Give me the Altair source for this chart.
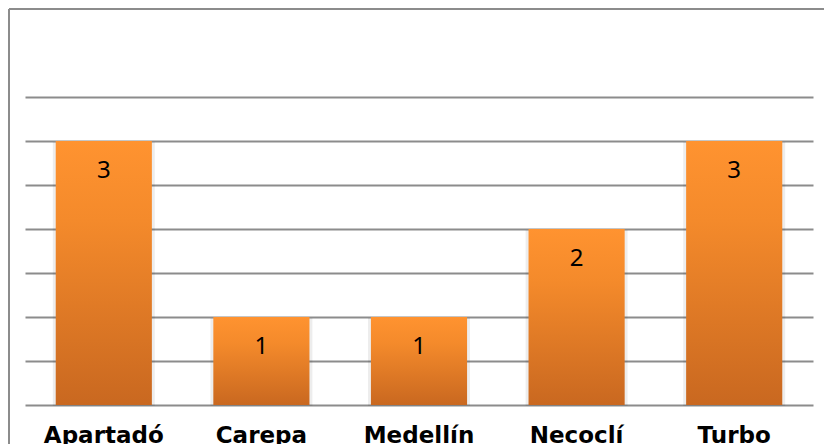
import altair as alt
import pandas as pd

categories = ["Apartadó", "Carepa", "Medellín", "Necoclí", "Turbo"]
values = [3, 1, 1, 2, 3]

df = pd.DataFrame({"municipio": categories, "n": values})

W, H = 788, 308
grid_col = "#8c8c8c"

xenc = alt.X(
    "municipio:N",
    sort=categories,
    scale=alt.Scale(paddingInner=0.39, paddingOuter=0.195),
    axis=alt.Axis(
        title=None, labelAngle=0, domain=False, ticks=False, tickSize=0,
        labelFont="DejaVu Sans", labelFontWeight="bold", labelFontSize=23,
        labelColor="#000000", labelPadding=19, grid=False,
    ),
)
yenc = alt.Y(
    "n:Q",
    scale=alt.Scale(domain=[0, 3.5], nice=False),
    axis=alt.Axis(
        title=None, labels=False, ticks=False, domain=False,
        values=[0, 0.5, 1, 1.5, 2, 2.5, 3, 3.5],
        grid=True, gridColor=grid_col, gridWidth=2, gridOpacity=1,
    ),
)

gradient = alt.LinearGradient(
    gradient="linear", x1=0, y1=0, x2=0, y2=1,
    stops=[
        alt.GradientStop(offset=0, color="#FF9330"),
        alt.GradientStop(offset=0.3, color="#F48A2B"),
        alt.GradientStop(offset=1, color="#C96820"),
    ],
)

shadow = alt.Chart(df).mark_bar(color="#000000", opacity=0.07, yOffset=1, size=102).encode(
    x=xenc, y=yenc
)
bars = alt.Chart(df).mark_bar(color=gradient).encode(x=xenc, y=yenc)
labels = alt.Chart(df).mark_text(
    font="Noto Sans", fontSize=24, color="#000000", baseline="middle", dy=30
).encode(x=alt.X("municipio:N", sort=categories), y="n:Q", text="n:Q")

frame_left = alt.Chart(df).mark_rule(color=grid_col, strokeWidth=2).encode(
    x=alt.value(-16), y=alt.value(-88), y2=alt.value(H + 40)
)
frame_top = alt.Chart(df).mark_rule(color=grid_col, strokeWidth=2).encode(
    x=alt.value(-16), x2=alt.value(W + 20), y=alt.value(-88)
)

chart = (
    alt.layer(shadow, bars, labels, frame_left, frame_top)
    .properties(
        width=W, height=H,
        background="#ffffff",
        autosize=alt.AutoSizeParams(type="none"),
        padding={"left": 17, "top": 89, "right": 11, "bottom": 39},
    )
    .configure_view(strokeWidth=0, stroke="transparent")
)

chart.save("out.html", embed_options={"renderer": "svg", "actions": False})
